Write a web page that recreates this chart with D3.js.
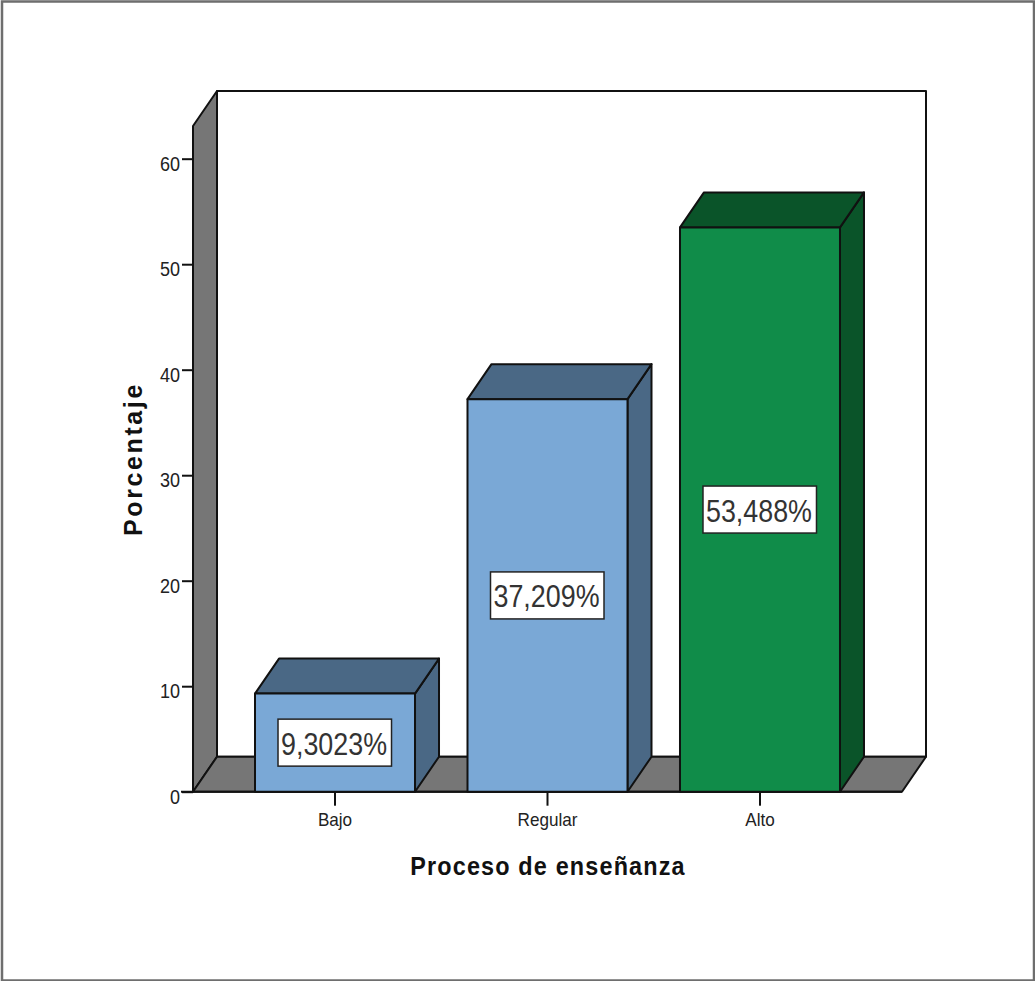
<!DOCTYPE html>
<html>
<head>
<meta charset="utf-8">
<script src="https://cdn.jsdelivr.net/npm/d3@7/dist/d3.min.js"></script>
<style>
html, body { margin: 0; padding: 0; background: #fff; }
svg { display: block; }
text { font-family: "Liberation Sans", Arial, sans-serif; fill: #222; }
</style>
</head>
<body>
<svg id="chart" width="1035" height="981"></svg>
<script>
// Proceso de enseñanza: percentage of responses per level
const categories = ["Bajo", "Regular", "Alto"];
const percentages = [9.3023, 37.209, 53.488];
const valueLabels = ["9,3023%", "37,209%", "53,488%"];
const barFaces = ["#7aa8d6", "#7aa8d6", "#108c49"];
const barSides = ["#4a6885", "#4a6885", "#0a5429"];
const yTicks = [0, 10, 20, 30, 40, 50, 60];
const yTitle = "Porcentaje";
const xTitle = "Proceso de enseñanza";

const width = 1035, height = 981;
const depthX = 24, depthY = -35;
const wallColor = "#767676", lineColor = "#111";

const svg = d3.select("#chart");

// Frame around the whole graphic
svg.append("rect")
  .attr("x", 2).attr("y", 1.5)
  .attr("width", width - 3).attr("height", height - 2)
  .attr("fill", "#fff").attr("stroke", "#6e6e6e").attr("stroke-width", 2.5);

const x = d3.scaleBand()
  .domain(categories)
  .range([193, 902])
  .paddingInner(0.247)
  .paddingOuter(0.2918);

const y = d3.scaleLinear().domain([0, 60]).range([791.7, 158.7]);

const [xLeft, xRight] = x.range();
const yFloor = y(0);
const yTop = 126;

const poly = (pts, fill) => svg.append("polygon")
  .attr("points", pts.map(p => p.join(",")).join(" "))
  .attr("fill", fill)
  .attr("stroke", lineColor)
  .attr("stroke-width", 2)
  .attr("stroke-linejoin", "round");

// Back wall, left wall and floor of the 3D box
poly([[xLeft + depthX, yTop + depthY], [xRight + depthX, yTop + depthY],
      [xRight + depthX, yFloor + depthY], [xLeft + depthX, yFloor + depthY]], "#fff");
poly([[xLeft, yTop], [xLeft + depthX, yTop + depthY],
      [xLeft + depthX, yFloor + depthY], [xLeft, yFloor]], wallColor);
poly([[xLeft, yFloor], [xLeft + depthX, yFloor + depthY],
      [xRight + depthX, yFloor + depthY], [xRight, yFloor]], wallColor);

// Squeeze a label horizontally by a factor of its natural width
const condense = (sel, factor) => sel.each(function () {
  const t = d3.select(this);
  t.attr("textLength", this.getComputedTextLength() * factor)
   .attr("lengthAdjust", "spacingAndGlyphs");
});

// Axes
const yAxis = svg.append("g")
  .attr("transform", `translate(${xLeft},0)`)
  .call(d3.axisLeft(y).tickValues(yTicks).tickSize(11).tickPadding(2).tickFormat(d3.format("d")));
yAxis.select(".domain").remove();
yAxis.selectAll("line").attr("stroke", lineColor).attr("stroke-width", 2);
yAxis.selectAll("text")
  .style("font-size", "20px")
  .attr("fill", "#222")
  .attr("dy", "0.57em")
  .call(condense, 0.9);

const xAxis = svg.append("g")
  .attr("transform", `translate(0,${yFloor})`)
  .call(d3.axisBottom(x).tickSize(14).tickPadding(7));
xAxis.select(".domain").remove();
xAxis.selectAll("line").attr("stroke", lineColor).attr("stroke-width", 2);
xAxis.selectAll("text")
  .style("font-size", "19px")
  .attr("fill", "#222")
  .call(condense, 0.9);

// Baseline along the front of the floor
svg.append("line")
  .attr("x1", xLeft - 12).attr("x2", xRight)
  .attr("y1", yFloor).attr("y2", yFloor)
  .attr("stroke", lineColor).attr("stroke-width", 2);

// Bars: right side, top, then front face and its value label
categories.forEach((c, i) => {
  const x0 = x(c), x1 = x0 + x.bandwidth(), yv = y(percentages[i]);
  poly([[x1, yv], [x1 + depthX, yv + depthY], [x1 + depthX, yFloor + depthY], [x1, yFloor]], barSides[i]);
  poly([[x0, yv], [x0 + depthX, yv + depthY], [x1 + depthX, yv + depthY], [x1, yv]], barSides[i]);
  poly([[x0, yv], [x1, yv], [x1, yFloor], [x0, yFloor]], barFaces[i]);

  const cx = (x0 + x1) / 2, cy = (yv + yFloor) / 2;
  svg.append("rect")
    .attr("x", cx - 57).attr("y", cy - 23.5)
    .attr("width", 113.5).attr("height", 47)
    .attr("fill", "#fff").attr("stroke", "#222").attr("stroke-width", 1.5);
  svg.append("text")
    .attr("x", cx - 54).attr("y", cy + 12)
    .attr("textLength", 106).attr("lengthAdjust", "spacingAndGlyphs")
    .style("font-size", "32px")
    .style("fill", "#333")
    .text(valueLabels[i]);
});

// Axis titles: bold and slightly tracked out
svg.append("text")
  .attr("transform", "translate(548,875) scale(0.9,1)")
  .attr("text-anchor", "middle")
  .style("font-size", "26px").style("font-weight", "bold")
  .style("letter-spacing", "1.3px")
  .style("fill", "#111")
  .text(xTitle);

svg.append("text")
  .attr("transform", "translate(142,459) rotate(-90)")
  .attr("text-anchor", "middle")
  .style("font-size", "25px").style("font-weight", "bold")
  .style("letter-spacing", "2.6px")
  .style("fill", "#111")
  .text(yTitle);
</script>
</body>
</html>
